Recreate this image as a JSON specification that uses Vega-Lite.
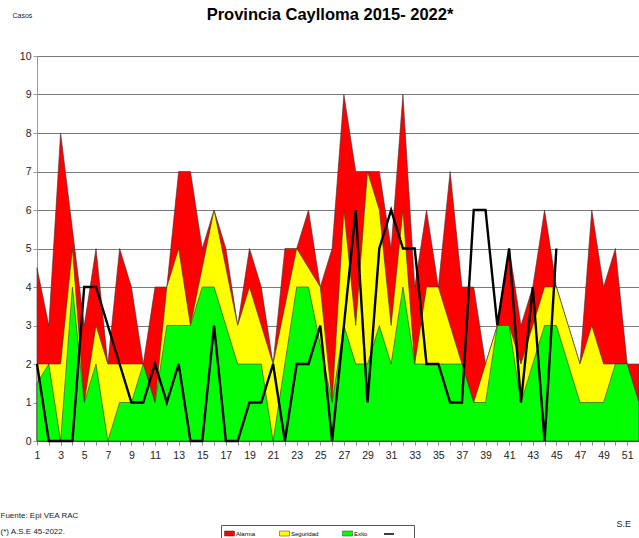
{
  "$schema": "https://vega.github.io/schema/vega-lite/v6.json",
  "width": 602,
  "height": 385,
  "autosize": {"type": "none"},
  "padding": {"left": 37, "top": 56, "right": 0, "bottom": 97},
  "background": "white",
  "title": {
    "text": "Provincia Caylloma 2015- 2022*",
    "font": "Liberation Sans",
    "fontSize": 16.5,
    "fontWeight": "bold",
    "color": "#000000",
    "anchor": "middle",
    "dx": -8,
    "dy": 16
  },
  "config": {
    "view": {"stroke": null},
    "font": "Liberation Sans",
    "axis": {"labelFont": "Liberation Sans", "titleFont": "Liberation Sans", "labelColor": "#222222", "titleColor": "#222222"},
    "legend": {"labelFont": "Liberation Sans", "titleFont": "Liberation Sans"}
  },
  "data": {
    "values": [
      {"se": 1, "Alarma": 4.5, "Seguridad": 2, "Exito": 1.5, "Casos": 2},
      {"se": 2, "Alarma": 3, "Seguridad": 2, "Exito": 2, "Casos": 0},
      {"se": 3, "Alarma": 8, "Seguridad": 2, "Exito": 0, "Casos": 0},
      {"se": 4, "Alarma": 5.5, "Seguridad": 5, "Exito": 4, "Casos": 0},
      {"se": 5, "Alarma": 3, "Seguridad": 1, "Exito": 1, "Casos": 4},
      {"se": 6, "Alarma": 5, "Seguridad": 3, "Exito": 2, "Casos": 4},
      {"se": 7, "Alarma": 2, "Seguridad": 2, "Exito": 0, "Casos": 3},
      {"se": 8, "Alarma": 5, "Seguridad": 2, "Exito": 1, "Casos": 2},
      {"se": 9, "Alarma": 4, "Seguridad": 2, "Exito": 1, "Casos": 1},
      {"se": 10, "Alarma": 2, "Seguridad": 2, "Exito": 2, "Casos": 1},
      {"se": 11, "Alarma": 4, "Seguridad": 1, "Exito": 1, "Casos": 2},
      {"se": 12, "Alarma": 4, "Seguridad": 4, "Exito": 3, "Casos": 1},
      {"se": 13, "Alarma": 7, "Seguridad": 5, "Exito": 3, "Casos": 2},
      {"se": 14, "Alarma": 7, "Seguridad": 3, "Exito": 3, "Casos": 0},
      {"se": 15, "Alarma": 5, "Seguridad": 4.5, "Exito": 4, "Casos": 0},
      {"se": 16, "Alarma": 6, "Seguridad": 6, "Exito": 4, "Casos": 3},
      {"se": 17, "Alarma": 5, "Seguridad": 4.5, "Exito": 3, "Casos": 0},
      {"se": 18, "Alarma": 3, "Seguridad": 3, "Exito": 2, "Casos": 0},
      {"se": 19, "Alarma": 5, "Seguridad": 4, "Exito": 2, "Casos": 1},
      {"se": 20, "Alarma": 4, "Seguridad": 3, "Exito": 2, "Casos": 1},
      {"se": 21, "Alarma": 2, "Seguridad": 2, "Exito": 0, "Casos": 2},
      {"se": 22, "Alarma": 5, "Seguridad": 3.5, "Exito": 2, "Casos": 0},
      {"se": 23, "Alarma": 5, "Seguridad": 5, "Exito": 4, "Casos": 2},
      {"se": 24, "Alarma": 6, "Seguridad": 4.5, "Exito": 4, "Casos": 2},
      {"se": 25, "Alarma": 4, "Seguridad": 4, "Exito": 2.5, "Casos": 3},
      {"se": 26, "Alarma": 5, "Seguridad": 1, "Exito": 1, "Casos": 0},
      {"se": 27, "Alarma": 9, "Seguridad": 6, "Exito": 3, "Casos": 3},
      {"se": 28, "Alarma": 7, "Seguridad": 3, "Exito": 2, "Casos": 6},
      {"se": 29, "Alarma": 7, "Seguridad": 7, "Exito": 2, "Casos": 1},
      {"se": 30, "Alarma": 7, "Seguridad": 6, "Exito": 3, "Casos": 5},
      {"se": 31, "Alarma": 5, "Seguridad": 3, "Exito": 2, "Casos": 6},
      {"se": 32, "Alarma": 9, "Seguridad": 6, "Exito": 4, "Casos": 5},
      {"se": 33, "Alarma": 4, "Seguridad": 2, "Exito": 2, "Casos": 5},
      {"se": 34, "Alarma": 6, "Seguridad": 4, "Exito": 2, "Casos": 2},
      {"se": 35, "Alarma": 4, "Seguridad": 4, "Exito": 2, "Casos": 2},
      {"se": 36, "Alarma": 7, "Seguridad": 3, "Exito": 2, "Casos": 1},
      {"se": 37, "Alarma": 4, "Seguridad": 2, "Exito": 2, "Casos": 1},
      {"se": 38, "Alarma": 4, "Seguridad": 1, "Exito": 1, "Casos": 6},
      {"se": 39, "Alarma": 2, "Seguridad": 2, "Exito": 1, "Casos": 6},
      {"se": 40, "Alarma": 3, "Seguridad": 3, "Exito": 3, "Casos": 3},
      {"se": 41, "Alarma": 5, "Seguridad": 3, "Exito": 3, "Casos": 5},
      {"se": 42, "Alarma": 3, "Seguridad": 2, "Exito": 1, "Casos": 1},
      {"se": 43, "Alarma": 4, "Seguridad": 3, "Exito": 2, "Casos": 4},
      {"se": 44, "Alarma": 6, "Seguridad": 4, "Exito": 3, "Casos": 0},
      {"se": 45, "Alarma": 4, "Seguridad": 4, "Exito": 3, "Casos": 5},
      {"se": 46, "Alarma": 3, "Seguridad": 3, "Exito": 2},
      {"se": 47, "Alarma": 2, "Seguridad": 2, "Exito": 1},
      {"se": 48, "Alarma": 6, "Seguridad": 3, "Exito": 1},
      {"se": 49, "Alarma": 4, "Seguridad": 2, "Exito": 1},
      {"se": 50, "Alarma": 5, "Seguridad": 2, "Exito": 2},
      {"se": 51, "Alarma": 2, "Seguridad": 2, "Exito": 2},
      {"se": 52, "Alarma": 2, "Seguridad": 1, "Exito": 1}
    ]
  },
  "encoding": {
    "x": {
      "field": "se",
      "type": "quantitative",
      "scale": {"domain": [1, 52], "nice": false, "zero": false},
      "axis": {
        "values": [1,2,3,4,5,6,7,8,9,10,11,12,13,14,15,16,17,18,19,20,21,22,23,24,25,26,27,28,29,30,31,32,33,34,35,36,37,38,39,40,41,42,43,44,45,46,47,48,49,50,51,52],
        "labelExpr": "datum.value % 2 == 1 ? datum.label : ''",
        "labelFlush": false,
        "labelOverlap": false,
        "grid": false,
        "domainColor": "#888888",
        "tickColor": "#888888",
        "tickSize": 4,
        "labelPadding": 5,
        "labelFontSize": 10.5,
        "title": "S.E",
        "titleX": 579,
        "titleY": 85,
        "titleAlign": "left",
        "titleBaseline": "alphabetic",
        "titleFontSize": 9,
        "titleFontWeight": "normal"
      }
    }
  },
  "layer": [
    {
      "transform": [{"fold": ["Alarma"], "as": ["serie", "casos"]}],
      "mark": {"type": "area", "stroke": "#333333", "strokeWidth": 0.6, "opacity": 1},
      "encoding": {
        "y": {
          "field": "casos",
          "type": "quantitative",
          "scale": {"domain": [0, 10], "nice": false},
          "axis": {
            "orient": "left",
            "values": [0,1,2,3,4,5,6,7,8,9,10],
            "grid": true,
            "gridColor": "#7a7a7a",
            "gridWidth": 1,
            "domain": true,
            "domainColor": "#999999",
            "tickColor": "#999999",
            "tickSize": 4,
            "labelPadding": 2,
            "labelFontSize": 10.5,
            "title": "Casos",
            "titleAngle": 0,
            "titleX": -25,
            "titleY": -39,
            "titleAlign": "left",
            "titleBaseline": "alphabetic",
            "titleFontSize": 7,
            "titleFontWeight": "normal"
          }
        },
        "color": {
          "field": "serie",
          "type": "nominal",
          "scale": {"domain": ["Alarma", "Seguridad", "Exito"], "range": ["#ff0000", "#ffff00", "#00ff00"]},
          "legend": {
            "orient": "none",
            "legendX": 184,
            "legendY": 469,
            "direction": "horizontal",
            "title": " ",
            "titleOrient": "right",
            "titlePadding": 44,
            "titleFontSize": 6,
            "padding": 3,
            "strokeColor": "#555555",
            "fillColor": "#ffffff",
            "labelFontSize": 6,
            "labelColor": "#000000",
            "labelOffset": 1,
            "columnPadding": 22,
            "symbolSize": 100,
            "symbolType": "M-1,-0.5H1V0.5H-1Z",
            "symbolStrokeColor": "#222222",
            "symbolStrokeWidth": 0.5,
            "symbolOpacity": 1
          }
        }
      }
    },
    {
      "transform": [{"fold": ["Seguridad"], "as": ["serie", "casos"]}],
      "mark": {"type": "area", "stroke": "#333333", "strokeWidth": 0.6, "opacity": 1},
      "encoding": {
        "y": {"field": "casos", "type": "quantitative", "axis": null},
        "color": {"field": "serie", "type": "nominal"}
      }
    },
    {
      "transform": [{"fold": ["Exito"], "as": ["serie", "casos"]}],
      "mark": {"type": "area", "stroke": "#333333", "strokeWidth": 0.6, "opacity": 1},
      "encoding": {
        "y": {"field": "casos", "type": "quantitative", "axis": null},
        "color": {"field": "serie", "type": "nominal"}
      }
    },
    {
      "transform": [
        {"fold": ["Casos"], "as": ["serie", "casos"]},
        {"filter": "isValid(datum.casos)"}
      ],
      "mark": {"type": "line", "strokeWidth": 2.4},
      "encoding": {
        "y": {
          "field": "casos",
          "type": "quantitative",
          "axis": {
            "orient": "right",
            "labels": false,
            "ticks": false,
            "domain": false,
            "grid": false,
            "title": ["Fuente: Epi VEA RAC", "(*) A.S.E 45-2022."],
            "titleAngle": 0,
            "titleX": -639,
            "titleY": 461,
            "titleAlign": "left",
            "titleBaseline": "alphabetic",
            "titleFontSize": 8,
            "titleFontWeight": "normal",
            "titleLineHeight": 16
          }
        },
        "stroke": {
          "field": "serie",
          "type": "nominal",
          "scale": {"domain": ["Casos"], "range": ["#000000"]},
          "legend": {
            "orient": "none",
            "legendX": 343,
            "legendY": 469,
            "direction": "horizontal",
            "title": null,
            "padding": 3,
            "labelExpr": "''",
            "symbolType": "stroke",
            "symbolSize": 100,
            "symbolStrokeWidth": 1.5,
            "symbolStrokeColor": "#333333"
          }
        }
      }
    }
  ],
  "resolve": {"axis": {"y": "independent"}}
}
